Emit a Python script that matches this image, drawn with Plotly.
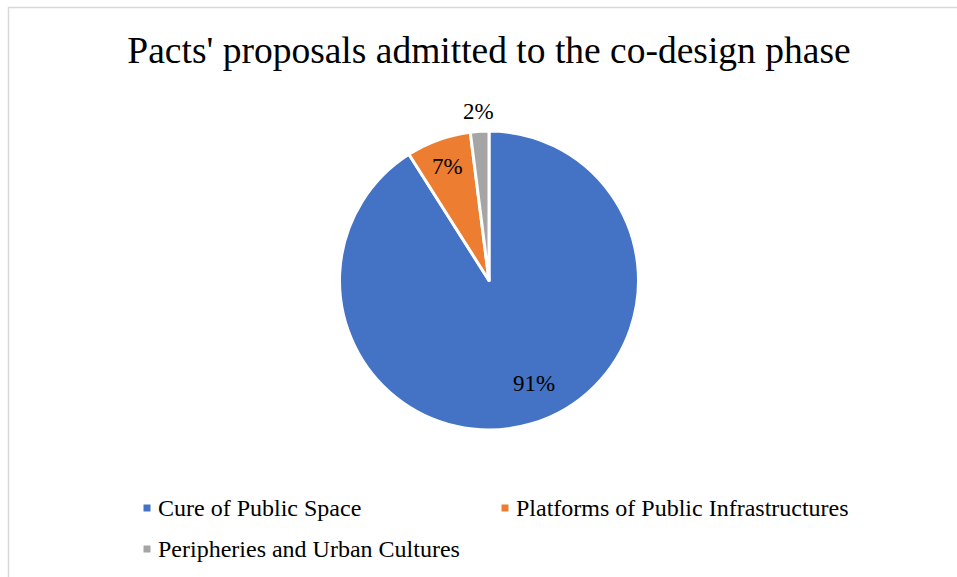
import math
import plotly.graph_objects as go

# Share of pact proposals admitted to the co-design phase, by category
categories = ["Cure of Public Space", "Platforms of Public Infrastructures", "Peripheries and Urban Cultures"]
shares = [91, 7, 2]
colors = ["#4472C4", "#ED7D31", "#A5A5A5"]

# label placement: fraction of the radius and angular nudge (degrees) from each slice's mid-angle
label_radius = [0.75, 0.814, 1.133]
label_nudge = [-7.5, 0.0, 0.0]

W, H = 957, 577
cx, cy, r = 489, 280.5, 149.5  # pie centre and radius in pixels
serif = "Liberation Serif"

fig = go.Figure(
    go.Pie(
        labels=categories,
        values=shares,
        sort=False,
        direction="clockwise",
        rotation=0,
        marker=dict(colors=colors, line=dict(color="white", width=3)),
        textinfo="none",
        hoverinfo="label+percent",
        showlegend=False,
        domain=dict(x=[(cx - r) / W, (cx + r) / W], y=[1 - (cy + r) / H, 1 - (cy - r) / H]),
    )
)

# percentage labels placed around each slice's mid-angle
total = sum(shares)
cum = 0
for v, frac, nudge in zip(shares, label_radius, label_nudge):
    mid = (cum + v / 2) / total * 2 * math.pi + math.radians(nudge)
    cum += v
    px = cx + frac * r * math.sin(mid)
    py = cy - frac * r * math.cos(mid)
    fig.add_annotation(
        x=px / W, y=1 - py / H, xref="paper", yref="paper",
        text=f"{round(v / total * 100)}%", showarrow=False,
        font=dict(family=serif, size=23, color="#000000"),
        xanchor="center", yanchor="middle",
    )

# legend: two columns, wrapping to a second row
leg_x0, leg_col_step = 157, 358
leg_y0, leg_row_step = 508, 41
swatch = 7
for i, (name, col) in enumerate(zip(categories, colors)):
    tx = leg_x0 + (i % 2) * leg_col_step
    ty = leg_y0 + (i // 2) * leg_row_step
    sx = tx - 10
    fig.add_shape(
        type="rect", xref="paper", yref="paper",
        x0=(sx - swatch / 2) / W, x1=(sx + swatch / 2) / W,
        y0=1 - (ty + swatch / 2) / H, y1=1 - (ty - swatch / 2) / H,
        fillcolor=col, line=dict(width=0),
    )
    fig.add_annotation(
        x=tx / W, y=1 - ty / H, xref="paper", yref="paper",
        text=name, showarrow=False,
        font=dict(family=serif, size=24, color="#000000"),
        xanchor="left", yanchor="middle", xshift=-1,
    )

# chart-area frame
fig.add_shape(
    type="rect", xref="paper", yref="paper",
    x0=8.5 / W, y0=-0.05, x1=1.05, y1=1 - 7.5 / H,
    line=dict(color="#D9D9D9", width=1.5), fillcolor="rgba(0,0,0,0)", layer="below",
)

fig.update_layout(
    width=W, height=H,
    margin=dict(l=0, r=0, t=0, b=0),
    paper_bgcolor="white",
    plot_bgcolor="white",
    font=dict(family=serif, color="#000000"),
    title=dict(
        text="Pacts' proposals admitted to the co-design phase",
        x=489 / W, xanchor="center", y=1 - 50 / H, yanchor="middle",
        font=dict(family=serif, size=37.5, color="#000000"),
    ),
    showlegend=False,
)

fig.write_html("out.html")
